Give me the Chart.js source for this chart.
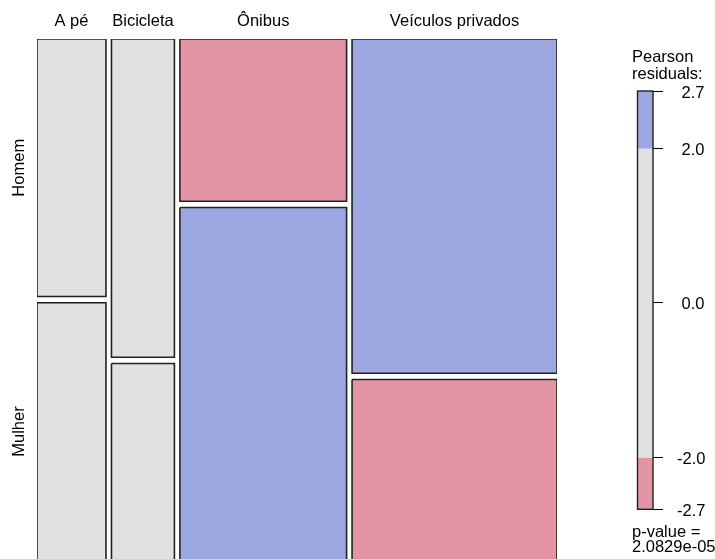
<!DOCTYPE html>
<html>
<head>
<meta charset="utf-8">
<title>Modo de transporte por sexo</title>
<script src="https://cdn.jsdelivr.net/npm/chart.js@4/dist/chart.umd.min.js"></script>
<style>
  html, body { margin: 0; padding: 0; background: #fff; }
  #wrap { position: relative; width: 715px; height: 559px; overflow: hidden; }
  #mosaic { position: absolute; left: 0; top: 0; }
  #key { position: absolute; left: 600px; top: 0; }
</style>
</head>
<body>
<div id="wrap">
  <canvas id="mosaic" width="715" height="559"></canvas>
  <canvas id="key" width="115" height="559"></canvas>
</div>
<script>
// Modes of transport (columns) and sex (rows)
const modes = ['A pé', 'Bicicleta', 'Ônibus', 'Veículos privados'];
const sexes = ['Homem', 'Mulher'];

// Share of all respondents using each mode (column widths)
const modeShare = [0.137, 0.125, 0.331, 0.407];
// Share of men within each mode (row split inside each column)
const homemShare = [0.500, 0.618, 0.315, 0.649];

// Pearson residuals per cell
const residHomem = [-0.12, 0.86, -2.67, 2.03];
const residMulher = [0.12, -0.88, 2.74, -2.09];

// Residual legend: range end points and the cut-offs
const residMin = -2.67;
const residMax = 2.74;
const legendTicks = [residMax, 2.0, 0.0, -2.0, residMin];
const pValueText = '2.0829e-05';

// Styling
const FONT = '"Liberation Sans", Arial, "DejaVu Sans", sans-serif';
const FONT_SIZE = 16.5;
const BLUE = '#9DA8E2';
const PINK = '#E495A5';
const GREY = '#E1E1E1';
const EDGE = '#222222';
const colGap = 0.0109;   // spacing between columns, in share units
const rowGap = 0.0122;   // spacing between rows, in share units
const yVisible = 1.0097; // part of the vertical extent shown in the canvas

function shade(r) {
  if (r >= 2) return BLUE;
  if (r <= -2) return PINK;
  return GREY;
}

function tile(x0, x1, y0, y1, r, label) {
  return {
    label: label,
    data: [
      { x: x0, y: y0 }, { x: x1, y: y0 }, { x: x1, y: y1 },
      { x: x0, y: y1 }, { x: x0, y: y0 }
    ],
    showLine: true,
    fill: 'shape',
    backgroundColor: shade(r),
    borderColor: EDGE,
    borderWidth: 1.6,
    borderJoinStyle: 'miter',
    pointRadius: 0,
    pointHoverRadius: 0,
    tension: 0
  };
}

// Build the mosaic tiles and remember column / row centres for labelling
const tiles = [];
const colCentres = [];
let left = 0;
modes.forEach((m, i) => {
  const right = left + modeShare[i];
  const h = homemShare[i];
  tiles.push(tile(left, right, 0, h, residHomem[i], m + ' / ' + sexes[0]));
  tiles.push(tile(left, right, h + rowGap, 1 + rowGap, residMulher[i], m + ' / ' + sexes[1]));
  colCentres.push((left + right) / 2);
  left = right + colGap;
});
const xTotal = left - colGap;
const rowCentres = [homemShare[0] / 2, (homemShare[0] + rowGap + 1 + rowGap) / 2];

const mosaicLabels = {
  id: 'mosaicLabels',
  afterDraw(chart) {
    const { ctx, scales: { x, y } } = chart;
    ctx.save();
    ctx.fillStyle = '#000';
    ctx.font = FONT_SIZE + 'px ' + FONT;
    ctx.textAlign = 'center';
    ctx.textBaseline = 'alphabetic';
    modes.forEach((m, i) => ctx.fillText(m, x.getPixelForValue(colCentres[i]), 26));
    sexes.forEach((s, i) => {
      ctx.save();
      ctx.translate(24, y.getPixelForValue(rowCentres[i]));
      ctx.rotate(-Math.PI / 2);
      ctx.fillText(s, 0, 0);
      ctx.restore();
    });
    ctx.restore();
  }
};

new Chart(document.getElementById('mosaic'), {
  type: 'scatter',
  data: { datasets: tiles },
  options: {
    responsive: false,
    animation: false,
    events: [],
    layout: { padding: { left: 37, top: 39, right: 158, bottom: 0 } },
    plugins: { legend: { display: false }, tooltip: { enabled: false } },
    scales: {
      x: { type: 'linear', display: false, min: 0, max: xTotal },
      y: { type: 'linear', display: false, reverse: true, min: 0, max: yVisible }
    }
  },
  plugins: [mosaicLabels]
});

// Shading legend
const keyText = {
  id: 'keyText',
  afterDatasetsDraw(chart) {
    const { ctx, chartArea: a } = chart;
    ctx.save();
    ctx.strokeStyle = EDGE;
    ctx.lineWidth = 1.4;
    ctx.strokeRect(a.left, a.top, a.right - a.left, a.bottom - a.top);
    ctx.restore();
  },
  afterDraw(chart) {
    const { ctx } = chart;
    ctx.save();
    ctx.fillStyle = '#000';
    ctx.font = FONT_SIZE + 'px ' + FONT;
    ctx.textAlign = 'left';
    ctx.textBaseline = 'alphabetic';
    ctx.fillText('Pearson', 32, 62);
    ctx.fillText('residuals:', 32, 79);
    ctx.fillText('p-value =', 32, 537);
    ctx.fillText(pValueText, 32, 552);
    ctx.restore();
  }
};

new Chart(document.getElementById('key'), {
  type: 'bar',
  data: {
    labels: [''],
    datasets: [
      { data: [[2, residMax]], backgroundColor: BLUE },
      { data: [[-2, 2]], backgroundColor: GREY },
      { data: [[residMin, -2]], backgroundColor: PINK }
    ]
  },
  options: {
    responsive: false,
    animation: false,
    events: [],
    layout: { padding: { left: 37.5, top: 91, right: 0, bottom: 49.7 } },
    datasets: { bar: { grouped: false, barPercentage: 1, categoryPercentage: 1, borderWidth: 0 } },
    plugins: { legend: { display: false }, tooltip: { enabled: false } },
    scales: {
      x: { display: false },
      y: {
        position: 'right',
        min: residMin,
        max: residMax,
        afterFit(scale) { scale.width = 62; },
        afterBuildTicks(scale) { scale.ticks = legendTicks.map(v => ({ value: v })); },
        ticks: {
          padding: 14,
          labelOffset: 2,
          color: '#000',
          font: { family: FONT, size: FONT_SIZE },
          callback: v => (v < 0 ? '' : ' ') + Number(v).toFixed(1)
        },
        grid: { drawOnChartArea: false, drawTicks: true, tickLength: 10, color: '#000', lineWidth: 1 },
        border: { display: false }
      }
    }
  },
  plugins: [keyText]
});
</script>
</body>
</html>
